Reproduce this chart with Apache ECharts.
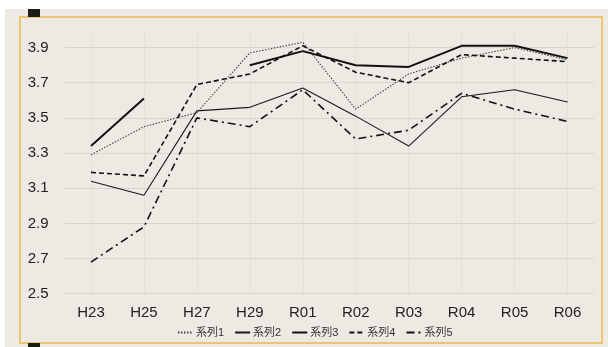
<!DOCTYPE html>
<html>
<head>
<meta charset="utf-8">
<script src="https://cdn.jsdelivr.net/npm/echarts@6/dist/echarts.min.js"></script>
<style>
html,body{margin:0;padding:0;background:#fff;}
#wrap{position:relative;width:608px;height:347px;overflow:hidden;}
#bg{position:absolute;left:5px;top:9px;width:603px;height:338px;background:#EDEAE3;}
#frame{position:absolute;left:19px;top:16px;width:580px;height:324px;border:2px solid #EBC572;}
.sq{position:absolute;left:28px;width:12px;background:#1c1c14;}
#chart{position:absolute;left:0;top:0;width:608px;height:347px;}
</style>
</head>
<body>
<div id="wrap">
  <div id="bg"></div>
  <div id="frame"></div>
  <div class="sq" style="top:9px;height:8px;"></div>
  <div class="sq" style="top:343px;height:4px;"></div>
  <div id="chart"></div>
</div>
<script>
const categories = ['H23','H25','H27','H29','R01','R02','R03','R04','R05','R06'];
const seriesNames = ['系列1','系列2','系列3','系列4','系列5'];
const s1 = [3.29, 3.45, 3.53, 3.87, 3.93, 3.55, 3.75, 3.84, 3.90, 3.83];
const s2 = [3.14, 3.06, 3.54, 3.56, 3.67, 3.51, 3.34, 3.62, 3.66, 3.59];
const s3 = [3.34, 3.61, null, 3.80, 3.88, 3.80, 3.79, 3.91, 3.91, 3.84];
const s4 = [3.19, 3.17, 3.69, 3.75, 3.91, 3.76, 3.70, 3.86, 3.84, 3.82];
const s5 = [2.68, 2.88, 3.50, 3.45, 3.66, 3.38, 3.43, 3.64, 3.55, 3.48];
const yMin = 2.5, yMax = 4.0, yStep = 0.1;

const font = '"Liberation Sans", Arial, "Noto Sans CJK JP", sans-serif';
const chart = echarts.init(document.getElementById('chart'), null, {renderer: 'canvas'});

const styles = [
  {color: '#444444', width: 1.1, type: [1.5, 1.5]},
  {color: '#1a1a1a', width: 1.1, type: 'solid'},
  {color: '#111111', width: 2, type: 'solid'},
  {color: '#111111', width: 1.6, type: [5, 3]},
  {color: '#111111', width: 1.6, type: [8, 4, 2, 4]}
];
const data = [s1, s2, s3, s4, s5];

chart.setOption({
  animation: false,
  backgroundColor: 'transparent',
  textStyle: {fontFamily: font},
  grid: {left: 64.5, right: 14, top: 30, bottom: 53.3, containLabel: false},
  legend: {
    top: 322, left: 172,
    itemWidth: 15, itemHeight: 10, itemGap: 10,
    itemStyle: {opacity: 0},
    textStyle: {fontSize: 11, color: '#333', fontFamily: font, padding: [0, 0, 0, -2]},
    data: seriesNames
  },
  xAxis: {
    type: 'category',
    data: categories,
    boundaryGap: true,
    axisLine: {show: false},
    axisTick: {show: false},
    axisLabel: {fontSize: 15, color: '#222', margin: 12, fontFamily: font},
    splitLine: {show: true, alignWithLabel: true, lineStyle: {color: '#E2E0DA', width: 1}}
  },
  yAxis: {
    type: 'value',
    min: yMin, max: yMax, interval: yStep,
    axisLine: {show: false},
    axisTick: {show: false},
    axisLabel: {
      fontSize: 15, color: '#222', margin: 16, fontFamily: font,
      formatter: function (v) {
        const k = Math.round(v * 10);
        return (k % 2 === 1 && k <= 39) ? (k / 10).toFixed(1) : '';
      }
    },
    splitLine: {show: true, lineStyle: {color: ['#D7D5D0', 'rgba(0,0,0,0)'], width: 1}}
  },
  series: data.map((d, i) => ({
    name: seriesNames[i],
    type: 'line',
    data: d,
    symbol: 'none',
    connectNulls: false,
    color: styles[i].color,
    lineStyle: styles[i]
  }))
});
</script>
</body>
</html>
